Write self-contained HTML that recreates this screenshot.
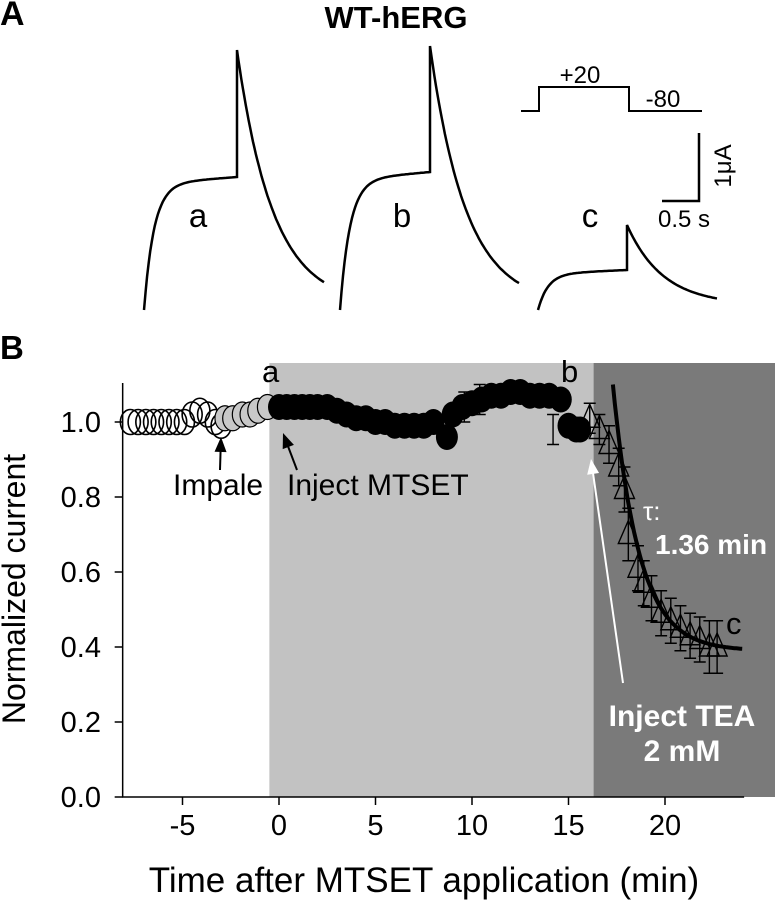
<!DOCTYPE html>
<html><head><meta charset="utf-8"><style>
html,body{margin:0;padding:0;background:#fff;}
svg{display:block;font-family:"Liberation Sans",sans-serif;}
</style></head><body>
<svg id="fig" width="775" height="900" viewBox="0 0 775 900" xmlns="http://www.w3.org/2000/svg">
<g id="traces" fill="none" stroke="#000" stroke-width="2.5"></g>
<g>
<polyline points="521,111 539,111 539,87 629,87 629,111 702,111" fill="none" stroke="#000" stroke-width="2"/>
</g>
<g>
<polyline points="662,201 699,201 699,133" fill="none" stroke="#000" stroke-width="2.5"/>
</g>
<g id="plot"></g>
<g id="labels"></g>
</svg>
<script>
const openT=[-7.7,-7.3,-6.9,-6.5,-6.1,-5.7,-5.3,-4.9,-4.5,-4.1,-3.7,-3.3,-3.0];
const openV=[1.0,1.0,1.0,1.0,1.0,1.0,1.0,1.0,1.02,1.03,1.02,1.0,0.99];
const greyT=[-2.8,-2.4,-1.9,-1.5,-1.1,-0.6];
const greyV=[1.01,1.01,1.02,1.02,1.03,1.04];
const blackT=[0.0,0.4,0.8,1.2,1.6,2.0,2.5,3.0,3.5,4.0,4.5,5.0,5.5,6.0,6.5,7.0,7.5,8.0,8.7,9.0,9.5,10.0,10.5,11.0,11.5,12.0,12.5,13.0,13.5,14.0,14.6,15.0,15.4,15.6];
const blackV=[1.04,1.04,1.04,1.04,1.04,1.04,1.04,1.03,1.02,1.01,1.01,1.0,1.0,0.99,0.99,0.99,0.99,1.0,0.96,1.02,1.04,1.05,1.06,1.07,1.07,1.08,1.08,1.07,1.07,1.07,1.06,0.99,0.98,0.98];
const triT=[16.1,16.6,17.1,17.6,17.9,18.1,18.6,18.9,19.3,19.8,20.3,20.8,21.3,21.8,22.3,22.7];
const triV=[1.01,0.98,0.94,0.88,0.82,0.70,0.61,0.57,0.53,0.49,0.47,0.45,0.43,0.42,0.40,0.40];
const triE=[0.04,0.04,0.05,0.05,0.06,0.07,0.06,0.06,0.06,0.06,0.06,0.06,0.06,0.06,0.07,0.07];
const errT=[9.6,10.4,14.2];
const errV=[1.04,1.06,0.98];
const errE=[0.04,0.04,0.04];
const xTicks=[-5,0,5,10,15,20];
const yTicks=[0.0,0.2,0.4,0.6,0.8,1.0];
const tauFit={tau:1.36,t0:17.3,y0:0.39,A:0.71};
const NS="http://www.w3.org/2000/svg";
const X=t=>279+t*19.3, Y=v=>797-v*375;
const plot=document.getElementById('plot'), labels=document.getElementById('labels');
function mk(tag,at,par){const e=document.createElementNS(NS,tag);for(const k in at)e.setAttribute(k,at[k]);(par||plot).appendChild(e);return e;}
function T(x,y,s,sz,o,name){o=o||{};const e=mk('text',{x:x,y:y,'font-size':sz,fill:o.fill||'#000','font-weight':o.w||'normal','text-anchor':o.a||'start'},labels);e.textContent=s;
 
 return e;}
T(0,25,'A',34,{w:'bold'},'panel-a-label');
T(396,28,'WT-hERG',31,{w:'bold',a:'middle'},'title-wt-herg');
T(0,359,'B',33,{w:'bold'},'panel-b-label');
T(198,227,'a',33,{a:'middle'},'trace-label-a');
T(402,227,'b',33,{a:'middle'},'trace-label-b');
T(590,227,'c',33,{a:'middle'},'trace-label-c');
T(580,83,'+20',24,{a:'middle'},'voltage-label-plus20');
T(663,107,'-80',24,{a:'middle'},'voltage-label-minus80');
T(684,227,'0.5 s',24,{a:'middle'},'time-scale-label');
let ua=mk('text',{transform:`translate(731,166) rotate(-90)`,'font-size':24,'text-anchor':'middle'},labels);ua.textContent='1μA';


let r1=mk('rect',{x:X(-0.5),y:363,width:X(16.3)-X(-0.5),height:Y(0)-363,fill:'#c2c2c2'});


let r2=mk('rect',{x:X(16.3),y:363,width:775-X(16.3),height:Y(0)-363,fill:'#7a7a7a'});


let ax=mk('path',{d:`M${X(-8.1)},383 V${Y(0)} H${X(24.1)}`,stroke:'#000','stroke-width':1.5,fill:'none'});


xTicks.forEach(t=>{mk('line',{x1:X(t),x2:X(t),y1:Y(0),y2:Y(0)+8,stroke:'#000','stroke-width':1.5});
 T(X(t),835,String(t),29,{a:'middle'},'x-tick-label');});
yTicks.forEach(v=>{mk('line',{x1:X(-8.1)-8,x2:X(-8.1),y1:Y(v),y2:Y(v),stroke:'#000','stroke-width':1.5});
 T(101,Y(v)+10,v.toFixed(1),29,{a:'end'},'y-tick-label');});
T(424,892,'Time after MTSET application (min)',35,{a:'middle'},'x-axis-title');
let yt=mk('text',{transform:`translate(25,589) rotate(-90)`,'font-size':32,'text-anchor':'middle'},labels);yt.textContent='Normalized current';


function eb(t,v,e){if(!e)return;mk('path',{d:`M${X(t)},${Y(v-e)}V${Y(v+e)}M${X(t)-6},${Y(v-e)}h12M${X(t)-6},${Y(v+e)}h12`,stroke:'#000','stroke-width':1.4,fill:'none'});}
errT.forEach((t,i)=>eb(t,errV[i],errE[i]));
openT.forEach((t,i)=>{const c=mk('ellipse',{cx:X(t),cy:Y(openV[i]),rx:10,ry:12.5,fill:'none',stroke:'#000','stroke-width':1.6});
 
 });
greyT.forEach((t,i)=>{const c=mk('ellipse',{cx:X(t),cy:Y(greyV[i]),rx:10,ry:12.5,fill:'#c8c8c8',stroke:'#000','stroke-width':1.2});
 
 });
blackT.forEach((t,i)=>{const c=mk('ellipse',{cx:X(t),cy:Y(blackV[i]),rx:11,ry:13,fill:'#000'});
 
 });
triT.forEach((t,i)=>{eb(t,triV[i],triE[i]);const x=X(t),y=Y(triV[i]);
 const p=mk('path',{d:`M${x},${y-14}L${x+10},${y+9}L${x-10},${y+9}Z`,fill:'none',stroke:'#000','stroke-width':1.4});
 
 });
let d='';for(let t=tauFit.t0;t<=24.1;t+=0.1){const v=tauFit.y0+tauFit.A*Math.exp(-(t-tauFit.t0)/tauFit.tau);d+=(d?'L':'M')+X(t).toFixed(1)+','+Y(v).toFixed(1);}
let fit=mk('path',{d,stroke:'#000','stroke-width':4,fill:'none'});


T(262,382,'a',31,{},'point-label-a');
T(561,382,'b',31,{},'point-label-b');
T(726,634,'c',31,{},'point-label-c');
T(173,495,'Impale',30,{},'impale-annotation');
T(287,495,'Inject MTSET',30,{},'inject-mtset-annotation');
T(643,520,'τ:',26,{fill:'#fff'},'tau-label');
T(655,554,'1.36 min',28,{fill:'#fff',w:'bold'},'tau-value');
T(682,726,'Inject TEA',30,{fill:'#fff',w:'bold',a:'middle'},'inject-tea-annotation');
T(682,761,'2 mM',30,{fill:'#fff',w:'bold',a:'middle'},'tea-concentration');
function arrow(x1,y1,x2,y2,col,name){const a=Math.atan2(y2-y1,x2-x1),h=15,w=6;
 const g=mk('g',{});
 mk('line',{x1,y1,x2:x2-Math.cos(a)*h*0.8,y2:y2-Math.sin(a)*h*0.8,stroke:col,'stroke-width':2},g);
 const bx=x2-Math.cos(a)*h,by=y2-Math.sin(a)*h;
 mk('path',{d:`M${x2},${y2}L${bx-Math.sin(a)*w},${by+Math.cos(a)*w}L${bx+Math.sin(a)*w},${by-Math.cos(a)*w}Z`,fill:col},g);}
arrow(220,470,221,437,'#000','impale-arrow');
arrow(297,470,283,433,'#000','mtset-arrow');
arrow(623,683,591,459,'#fff','tea-arrow');
const tr=document.getElementById('traces');
function trace(x0,base,plat0,plat,sx,peak,end,endX,name){
 let d=`M${x0},${base}`;
 for(let i=1;i<=60;i++){const f=i/60,x=x0+f*(sx-x0);const v=plat0+(plat-plat0)*f+(base-plat0)*Math.exp(-(x-x0)/10);d+=`L${x.toFixed(1)},${v.toFixed(1)}`;}
 d+=`L${sx},${peak}`;
 for(let i=1;i<=60;i++){const x=sx+i*((endX-sx)/60);const v=end+(peak-end)*Math.exp(-(x-sx)/36);d+=`L${x.toFixed(1)},${v.toFixed(1)}`;}
 const p=document.createElementNS(NS,'path');p.setAttribute('d',d);tr.appendChild(p);
 
 }
trace(144,310,184,177,237,50,305,324,'trace-a');
trace(340,310,180,172,430,46,305,519,'trace-b');
trace(538,310,274,270,627,225,305,717,'trace-c');
</script>
</body></html>
